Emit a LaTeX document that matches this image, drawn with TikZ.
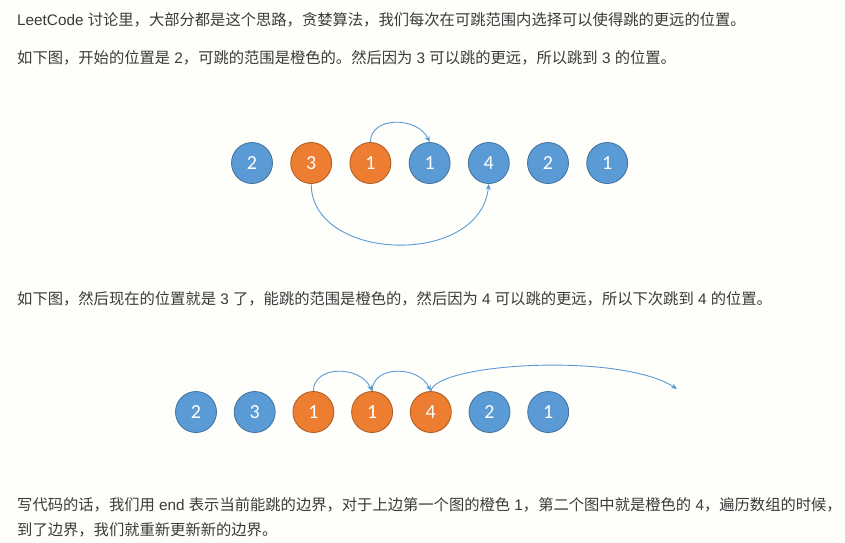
\documentclass[tikz,border=0pt]{standalone}
\usepackage{fontspec}
\setmainfont{Noto Sans CJK SC}
\newfontfamily\latinf{Liberation Sans}
\newfontfamily\numfont{Carlito}
\newcommand\ltn[1]{{\latinf #1}}
\usetikzlibrary{arrows.meta}
\definecolor{bgc}{HTML}{FEFEFB}
\definecolor{txtc}{HTML}{3A3A3A}
\definecolor{bluef}{HTML}{5B9BD5}
\definecolor{blued}{HTML}{41719C}
\definecolor{orangef}{HTML}{ED7D31}
\definecolor{oranged}{HTML}{AE5A21}
\definecolor{arrc}{HTML}{5B9BD5}
\tikzset{
  para/.style={anchor=base west, inner sep=0pt, text=txtc, font=\fontsize{15.3}{18}\selectfont},
  ball/.style={circle, minimum size=41pt, inner sep=0pt, line width=0.8pt, text=white, font=\numfont\fontsize{20}{24}\selectfont},
  bball/.style={ball, fill=bluef, draw=blued},
  oball/.style={ball, fill=orangef, draw=oranged},
  jump/.style={draw=arrc, line width=0.9pt, -{Stealth[length=6pt,width=5pt]}}
}
\begin{document}
\begin{tikzpicture}[x=1pt,y=-1pt]
\fill[bgc] (0,0) rectangle (845,542);
\useasboundingbox (0,0) rectangle (845,542);

\node[para] (t1) at (17,25.2) {\ltn{LeetCode\ }讨论里，大部分都是这个思路，贪婪算法，我们每次在可跳范围内选择可以使得跳的更远的位置。};
\node[para] (t2) at (17,63.5) {如下图，开始的位置是\ltn{\ 2}，可跳的范围是橙色的。然后因为\ltn{\ 3\ }可以跳的更远，所以跳到\ltn{\ 3\ }的位置。};
\node[para] (t3) at (17,304.5) {如下图，然后现在的位置就是\ltn{\ 3\ }了，能跳的范围是橙色的，然后因为\ltn{\ 4\ }可以跳的更远，所以下次跳到\ltn{\ 4\ }的位置。};
\node[para] (t4) at (17,510.5) {写代码的话，我们用\ltn{\ end\ }表示当前能跳的边界，对于上边第一个图的橙色\ltn{\ 1}，第二个图中就是橙色的\ltn{\ 4}，遍历数组的时候，};
\node[para] (t5) at (17,535) {到了边界，我们就重新更新新的边界。};

% row 1
\node[bball] (a1) at (252.0,163) {2};
\node[oball] (a2) at (311.2,163) {3};
\node[oball] (a3) at (370.4,163) {1};
\node[bball] (a4) at (429.6,163) {1};
\node[bball] (a5) at (488.8,163) {4};
\node[bball] (a6) at (548.0,163) {2};
\node[bball] (a7) at (607.2,163) {1};
\draw[jump] (a3.north) .. controls +(0,-26) and +(-12,-26) .. (a4.north);
\draw[jump] (a2.south) .. controls +(0,78) and +(-9,84) .. (a5.south);

% row 2
\node[bball] (b1) at (196.0,412) {2};
\node[bball] (b2) at (254.7,412) {3};
\node[oball] (b3) at (313.4,412) {1};
\node[oball] (b4) at (372.1,412) {1};
\node[oball] (b5) at (430.8,412) {4};
\node[bball] (b6) at (489.5,412) {2};
\node[bball] (b7) at (548.2,412) {1};
\coordinate (e) at (677,389);
\draw[jump] (b3.north) .. controls +(0,-26) and +(-12,-26) .. (b4.north);
\draw[jump] (b4.north) .. controls +(0,-26) and +(-12,-26) .. (b5.north);
\draw[jump] (b5.north) .. controls +(5,-28) and +(-57,-37) .. (e);
\end{tikzpicture}
\end{document}
